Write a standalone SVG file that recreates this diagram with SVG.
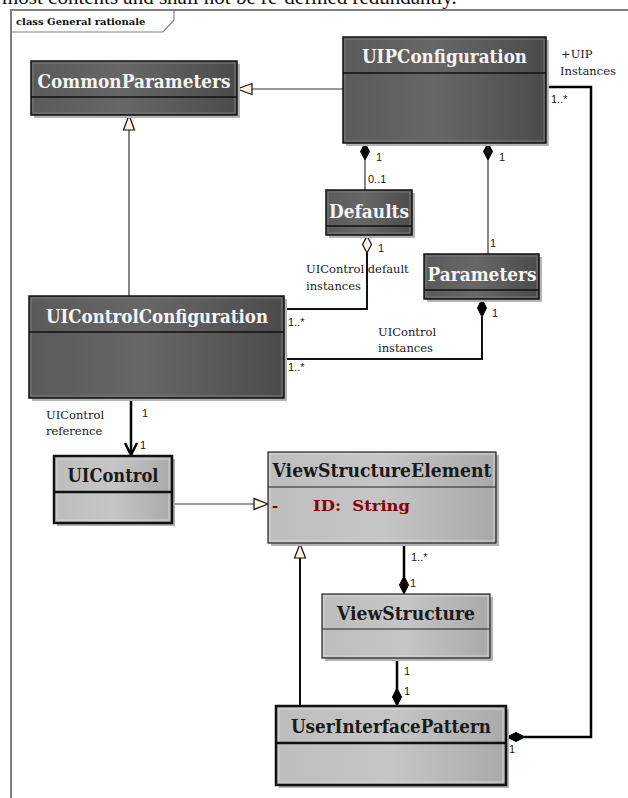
<svg xmlns="http://www.w3.org/2000/svg" width="628" height="798" viewBox="0 0 628 798">
  <defs>
    <linearGradient id="gDark" x1="0" y1="0" x2="1" y2="0">
      <stop offset="0" stop-color="#5a5a5a"/>
      <stop offset="0.45" stop-color="#676767"/>
      <stop offset="1" stop-color="#4b4b4b"/>
    </linearGradient>
    <linearGradient id="gLight" x1="0" y1="0" x2="1" y2="0">
      <stop offset="0" stop-color="#bdbdbd"/>
      <stop offset="0.5" stop-color="#c6c6c6"/>
      <stop offset="1" stop-color="#a9a9a9"/>
    </linearGradient>
    <style>
      .shadow { fill: #b4b4b4; }
      .dark { fill: url(#gDark); stroke: #111; stroke-width: 1.5; }
      .light { fill: url(#gLight); stroke: #222; stroke-width: 1.2; }
      .light.bold { stroke: #111; stroke-width: 2.5; }
      .inner-d { fill: none; stroke: #7a7a7a; stroke-width: 1; }
      .inner-l { fill: none; stroke: #d6d6d6; stroke-width: 1; }
      .div-d { stroke: #111; stroke-width: 1.5; }
      .div-l { stroke: #222; stroke-width: 1.2; }
      .div-b { stroke: #111; stroke-width: 2.5; }
      .title { font-family: "DejaVu Serif", "Liberation Serif", serif; font-weight: bold; font-size: 18px; text-anchor: middle; }
      .title-d { fill: #f4f4f4; }
      .title-l { fill: #1a1a1a; }
      .attr { font-family: "DejaVu Serif", "Liberation Serif", serif; font-weight: bold; font-size: 15px; fill: #8b0000; white-space: pre; }
      .mult { font-family: "Liberation Sans", Arial, sans-serif; font-size: 11px; fill: #1a1a1a; }
      .role { font-family: "DejaVu Serif", "Liberation Serif", serif; font-size: 11.5px; fill: #1a1a1a; }
      .thin { fill: none; stroke: #333; stroke-width: 1.2; }
      .thick { fill: none; stroke: #000; stroke-width: 2.5; }
      .mid { fill: none; stroke: #111; stroke-width: 2; }
      .tri { fill: #fdf1e2; stroke: #111; stroke-width: 1.2; }
      .dia { fill: #000; stroke: #000; stroke-width: 1; }
      .dia-o { fill: #fdf1e2; stroke: #111; stroke-width: 1.2; }
      .frame { fill: none; stroke: #808080; stroke-width: 2; }
    </style>
  </defs>

  <rect width="628" height="798" fill="#ffffff"/>

  <!-- sentence running above the diagram frame -->
  <text x="2" y="4" font-family="Liberation Serif, serif" font-size="21" fill="#111">most contents and shall not be re-defined redundantly.</text>

  <!-- diagram frame -->
  <g id="frame">
    <path class="frame" d="M11,798 V10 H628"/>
    <path d="M11,32 H163 L174,20 V10" fill="none" stroke="#808080" stroke-width="1.2"/>
    <text x="16" y="25" font-family="DejaVu Serif, serif" font-weight="bold" font-size="10" fill="#111">class General rationale</text>
  </g>

  <!-- connectors -->
  <g id="connectors">
    <!-- UIPConfiguration generalizes CommonParameters -->
    <line class="thin" x1="343" y1="89" x2="252" y2="89"/>
    <polygon class="tri" points="237,89 252,83.5 252,94.5"/>
    <!-- UIControlConfiguration generalizes CommonParameters -->
    <line class="thin" x1="129" y1="296" x2="129" y2="130"/>
    <polygon class="tri" points="129,115 123.5,130 134.5,130"/>
    <!-- UIPConfiguration owns Defaults -->
    <line class="thin" x1="365" y1="160" x2="365" y2="190"/>
    <polygon class="dia" points="365,143 369.5,151.5 365,160 360.5,151.5"/>
    <!-- UIPConfiguration owns Parameters -->
    <line class="thin" x1="488" y1="160" x2="488" y2="254"/>
    <polygon class="dia" points="488,143 492.5,151.5 488,160 483.5,151.5"/>
    <!-- Defaults aggregates UIControlConfiguration -->
    <polyline class="mid" points="367,253 367,309 284,309"/>
    <polygon class="dia-o" points="367,236 371.5,244.5 367,253 362.5,244.5"/>
    <!-- Parameters owns UIControlConfiguration -->
    <polyline class="mid" points="482,317 482,359 284,359"/>
    <polygon class="dia" points="482,299 486.5,308 482,317 477.5,308"/>
    <!-- UIControlConfiguration references UIControl -->
    <line class="thick" x1="131" y1="398" x2="131" y2="455"/>
    <polyline class="thick" points="125,443 131,455 137,443"/>
    <!-- UIControl generalizes ViewStructureElement -->
    <line class="thin" x1="172" y1="504" x2="254" y2="504"/>
    <polygon class="tri" points="268,504 254,498.5 254,509.5"/>
    <!-- ViewStructure owns ViewStructureElement -->
    <line class="thick" x1="404" y1="543" x2="404" y2="577"/>
    <polygon class="dia" points="404,576 408.5,585 404,594 399.5,585"/>
    <!-- UserInterfacePattern generalizes ViewStructureElement -->
    <line class="mid" x1="300" y1="706" x2="300" y2="558"/>
    <polygon class="tri" points="300,544 294.5,558 305.5,558"/>
    <!-- UserInterfacePattern owns ViewStructure -->
    <line class="thick" x1="397" y1="658" x2="397" y2="690"/>
    <polygon class="dia" points="397,688 401.5,697 397,706 392.5,697"/>
    <!-- UserInterfacePattern owns UIPConfiguration instances -->
    <polyline class="thick" points="546,87 591,87 591,737 524,737"/>
    <polygon class="dia" points="507,737 516,732.5 525,737 516,741.5"/>

    <!-- multiplicities and role names -->
    <text class="mult" x="376" y="161">1</text>
    <text class="mult" x="368" y="183">0..1</text>
    <text class="mult" x="499" y="161">1</text>
    <text class="mult" x="490" y="247">1</text>
    <text class="mult" x="378" y="252">1</text>
    <text class="role" x="306" y="273">UIControl default</text>
    <text class="role" x="306" y="290">instances</text>
    <text class="mult" x="492" y="317">1</text>
    <text class="role" x="378" y="336">UIControl</text>
    <text class="role" x="378" y="352">instances</text>
    <text class="mult" x="288" y="326">1..*</text>
    <text class="mult" x="288" y="371">1..*</text>
    <text class="mult" x="142" y="417">1</text>
    <text class="role" x="46" y="419">UIControl</text>
    <text class="role" x="46" y="435">reference</text>
    <text class="mult" x="140" y="449">1</text>
    <text class="mult" x="411" y="561">1..*</text>
    <text class="mult" x="410" y="587">1</text>
    <text class="mult" x="404" y="675">1</text>
    <text class="mult" x="404" y="695">1</text>
    <text class="mult" x="509" y="753">1</text>
    <text class="role" x="561" y="58">+UIP</text>
    <text class="role" x="560" y="75">Instances</text>
    <text class="mult" x="551" y="103">1..*</text>
  </g>

  <!-- classes -->
  <g id="CommonParameters">
    <rect class="shadow" x="34" y="64" width="206" height="54"/>
    <rect class="dark" x="31" y="61" width="206" height="54"/>
    <rect class="inner-d" x="33" y="63" width="202" height="50"/>
    <line class="div-d" x1="31" y1="97" x2="237" y2="97"/>
    <text class="title title-d" x="134" y="88" textLength="193" lengthAdjust="spacingAndGlyphs">CommonParameters</text>
  </g>

  <g id="UIPConfiguration">
    <rect class="shadow" x="346" y="40" width="203" height="106"/>
    <rect class="dark" x="343" y="37" width="203" height="106"/>
    <rect class="inner-d" x="345" y="39" width="199" height="102"/>
    <line class="div-d" x1="343" y1="73" x2="546" y2="73"/>
    <text class="title title-d" x="444.5" y="63" textLength="165" lengthAdjust="spacingAndGlyphs">UIPConfiguration</text>
  </g>

  <g id="Defaults">
    <rect class="shadow" x="329" y="193" width="86" height="45"/>
    <rect class="dark" x="326" y="190" width="86" height="45"/>
    <rect class="inner-d" x="328" y="192" width="82" height="41"/>
    <line class="div-d" x1="326" y1="226" x2="412" y2="226"/>
    <text class="title title-d" x="369" y="218" textLength="80" lengthAdjust="spacingAndGlyphs">Defaults</text>
  </g>

  <g id="Parameters">
    <rect class="shadow" x="427" y="257" width="115" height="45"/>
    <rect class="dark" x="424" y="254" width="115" height="45"/>
    <rect class="inner-d" x="426" y="256" width="111" height="41"/>
    <line class="div-d" x1="424" y1="290" x2="539" y2="290"/>
    <text class="title title-d" x="482" y="281" textLength="109" lengthAdjust="spacingAndGlyphs">Parameters</text>
  </g>

  <g id="UIControlConfiguration">
    <rect class="shadow" x="32" y="299" width="255" height="102"/>
    <rect class="dark" x="29" y="296" width="255" height="102"/>
    <rect class="inner-d" x="31" y="298" width="251" height="98"/>
    <line class="div-d" x1="29" y1="332" x2="284" y2="332"/>
    <text class="title title-d" x="157" y="323" textLength="222" lengthAdjust="spacingAndGlyphs">UIControlConfiguration</text>
  </g>

  <g id="UIControl">
    <rect class="shadow" x="57" y="459" width="118" height="67"/>
    <rect class="light bold" x="54" y="456" width="118" height="67"/>
    <rect class="inner-l" x="57" y="459" width="112" height="61"/>
    <line class="div-b" x1="54" y1="492" x2="172" y2="492"/>
    <text class="title title-l" x="113" y="482" textLength="91" lengthAdjust="spacingAndGlyphs">UIControl</text>
  </g>

  <g id="ViewStructureElement">
    <rect class="shadow" x="271" y="455" width="228" height="91"/>
    <rect class="light" x="268" y="452" width="228" height="91"/>
    <rect class="inner-l" x="270" y="454" width="224" height="87"/>
    <line class="div-l" x1="268" y1="487" x2="496" y2="487"/>
    <text class="title title-l" x="382" y="477" textLength="219" lengthAdjust="spacingAndGlyphs">ViewStructureElement</text>
    <text class="attr" x="272" y="511">-</text>
    <text class="attr" x="313" y="511" textLength="97" lengthAdjust="spacingAndGlyphs">ID:  String</text>
  </g>

  <g id="ViewStructure">
    <rect class="shadow" x="325" y="597" width="168" height="64"/>
    <rect class="light" x="322" y="594" width="168" height="64"/>
    <rect class="inner-l" x="324" y="596" width="164" height="60"/>
    <line class="div-l" x1="322" y1="629" x2="490" y2="629"/>
    <text class="title title-l" x="406" y="620" textLength="138" lengthAdjust="spacingAndGlyphs">ViewStructure</text>
  </g>

  <g id="UserInterfacePattern">
    <rect class="shadow" x="279" y="709" width="230" height="79"/>
    <rect class="light bold" x="276" y="706" width="230" height="79"/>
    <rect class="inner-l" x="279" y="709" width="224" height="73"/>
    <line class="div-b" x1="276" y1="743" x2="506" y2="743"/>
    <text class="title title-l" x="391" y="733" textLength="200" lengthAdjust="spacingAndGlyphs">UserInterfacePattern</text>
  </g>
</svg>
